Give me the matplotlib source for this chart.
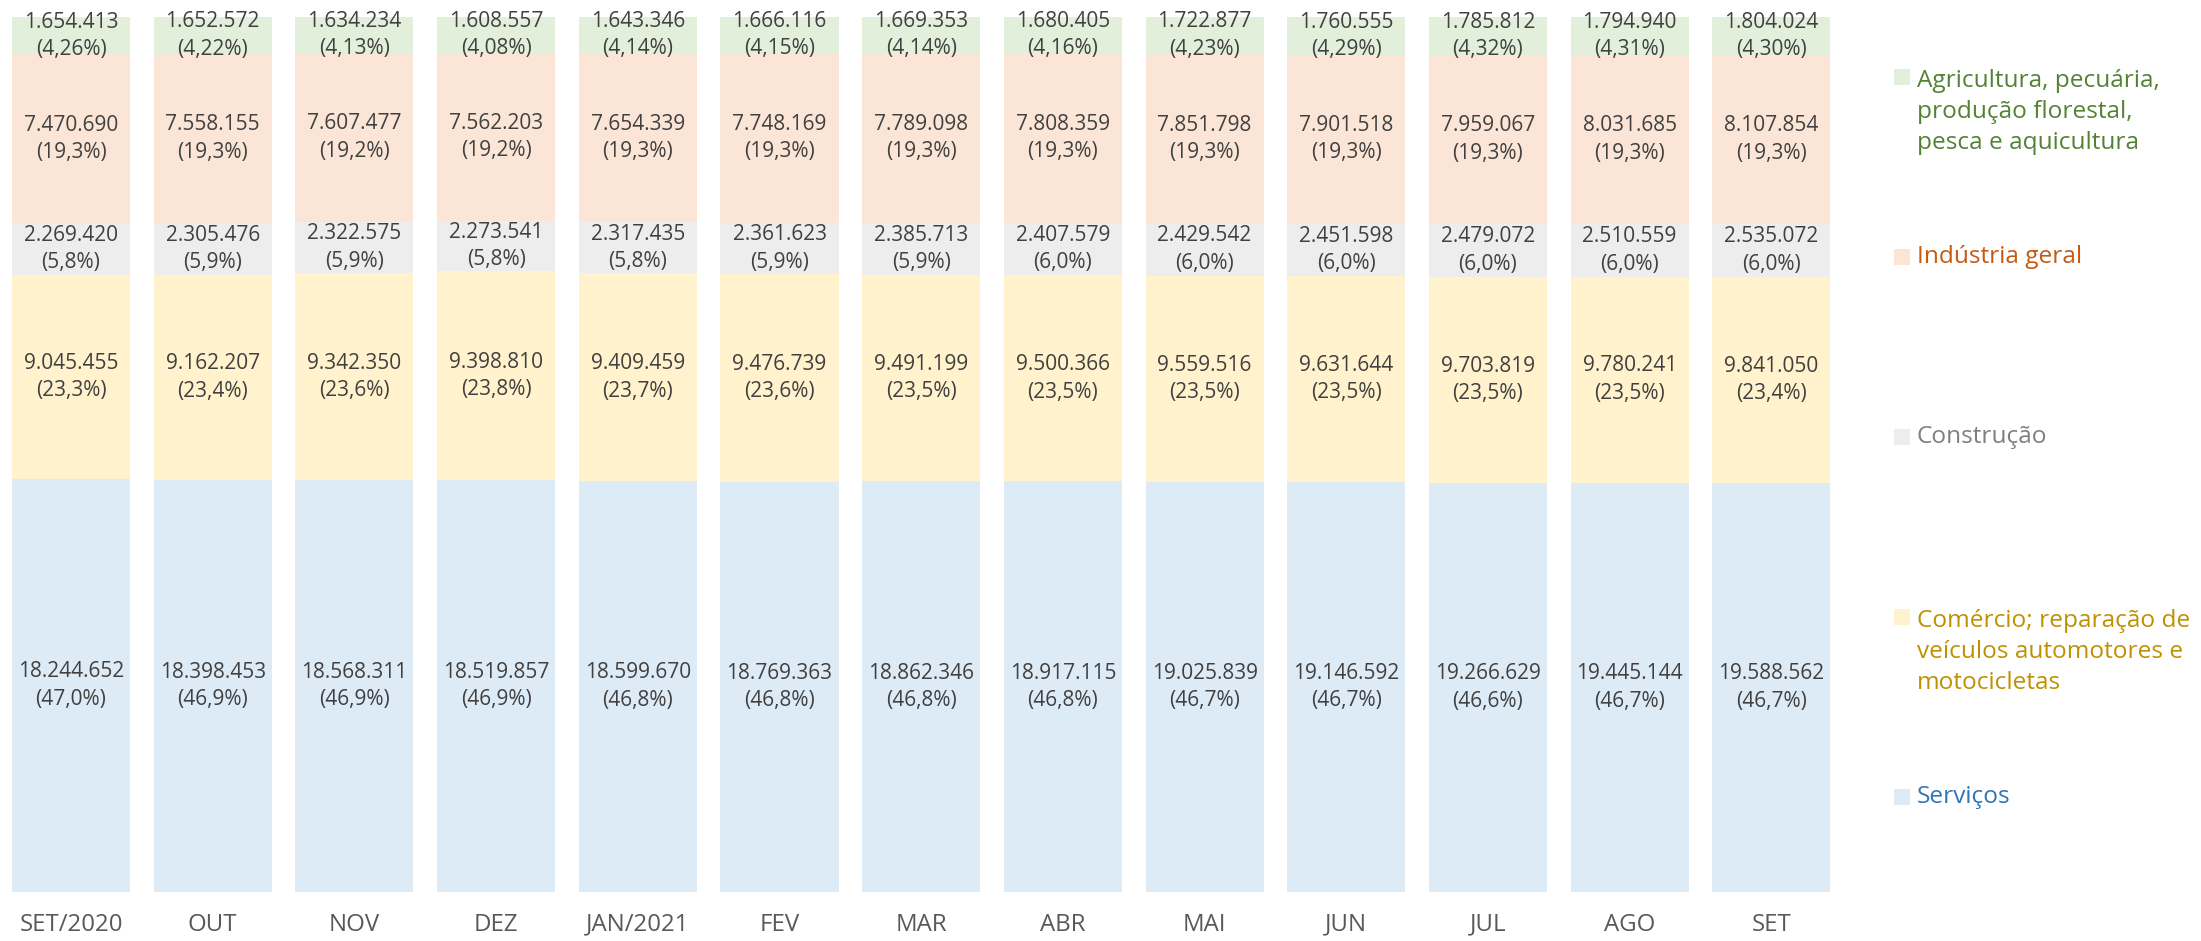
import textwrap
import matplotlib
matplotlib.use("Agg")
import matplotlib.pyplot as plt
from matplotlib.patches import Rectangle

# ---------------- data ----------------
months = ["SET/2020", "OUT", "NOV", "DEZ", "JAN/2021", "FEV", "MAR",
          "ABR", "MAI", "JUN", "JUL", "AGO", "SET"]

servicos = [18244652, 18398453, 18568311, 18519857, 18599670, 18769363, 18862346,
            18917115, 19025839, 19146592, 19266629, 19445144, 19588562]
comercio = [9045455, 9162207, 9342350, 9398810, 9409459, 9476739, 9491199,
            9500366, 9559516, 9631644, 9703819, 9780241, 9841050]
construcao = [2269420, 2305476, 2322575, 2273541, 2317435, 2361623, 2385713,
              2407579, 2429542, 2451598, 2479072, 2510559, 2535072]
industria = [7470690, 7558155, 7607477, 7562203, 7654339, 7748169, 7789098,
             7808359, 7851798, 7901518, 7959067, 8031685, 8107854]
agricultura = [1654413, 1652572, 1634234, 1608557, 1643346, 1666116, 1669353,
               1680405, 1722877, 1760555, 1785812, 1794940, 1804024]

servicos_pct = [47.0, 46.9, 46.9, 46.9, 46.8, 46.8, 46.8, 46.8, 46.7, 46.7, 46.6, 46.7, 46.7]
comercio_pct = [23.3, 23.4, 23.6, 23.8, 23.7, 23.6, 23.5, 23.5, 23.5, 23.5, 23.5, 23.5, 23.4]
construcao_pct = [5.8, 5.9, 5.9, 5.8, 5.8, 5.9, 5.9, 6.0, 6.0, 6.0, 6.0, 6.0, 6.0]
industria_pct = [19.3, 19.3, 19.2, 19.2, 19.3, 19.3, 19.3, 19.3, 19.3, 19.3, 19.3, 19.3, 19.3]
agricultura_pct = [4.26, 4.22, 4.13, 4.08, 4.14, 4.15, 4.14, 4.16, 4.23, 4.29, 4.32, 4.31, 4.30]

series_names = ["Serviços",
                "Comércio; reparação de veículos automotores e motocicletas",
                "Construção",
                "Indústria geral",
                "Agricultura, pecuária, produção florestal, pesca e aquicultura"]

# ---------------- style ----------------
fill_colors = ["#DDEBF7", "#FFF2CC", "#EDEDED", "#FBE5D6", "#E2EFDA"]
text_colors = ["#2E75B6", "#BF9000", "#7F7F7F", "#C55A11", "#548235"]
pct_decimals = [1, 1, 1, 1, 2]

plt.rcParams["font.family"] = ["Open Sans", "DejaVu Sans"]

W, H = 2201, 941
fig = plt.figure(figsize=(W / 100, H / 100), dpi=100)
ax = fig.add_axes([0.2 / W, 49 / H, 1842 / W, 875 / H])

values = [servicos, comercio, construcao, industria, agricultura]
pcts = [servicos_pct, comercio_pct, construcao_pct, industria_pct, agricultura_pct]

n = len(months)
x = list(range(n))
totals = [sum(v[i] for v in values) for i in range(n)]
bottoms = [0.0] * n

def fmt_int(v):
    return f"{v:,}".replace(",", ".")

def fmt_pct(p, d):
    return f"({p:.{d}f}%)".replace(".", ",")

for k, (vals, pc) in enumerate(zip(values, pcts)):
    fr = [vals[i] / totals[i] for i in range(n)]
    ax.bar(x, fr, bottom=bottoms, width=0.833, color=fill_colors[k],
           edgecolor="none", linewidth=0)
    for i in range(n):
        ax.text(x[i], bottoms[i] + fr[i] / 2,
                fmt_int(vals[i]) + "\n" + fmt_pct(pc[i], pct_decimals[k]),
                ha="center", va="center", fontsize=15, color="#404040",
                linespacing=1.4)
    bottoms = [bottoms[i] + fr[i] for i in range(n)]

ax.set_xlim(-0.5, n - 0.5)
ax.set_ylim(0, 1)
ax.set_yticks([])
ax.set_xticks(x, months)
ax.tick_params(axis="x", length=0, pad=15, labelsize=17.3, labelcolor="#595959")
for s in ax.spines.values():
    s.set_visible(False)

# ---------------- legend ----------------
legend_centers = [797, 652, 437, 257, 112]   # px from top (block centers)
line_px = 35
for k in range(len(series_names)):
    label = textwrap.fill(series_names[k], width=22)
    nlines = label.count("\n") + 1
    yc = legend_centers[k]
    first = yc - (nlines - 1) * line_px / 2
    fig.patches.append(Rectangle((1894 / W, 1 - (first + 8) / H), 16 / W, 16 / H,
                                 transform=fig.transFigure, facecolor=fill_colors[k],
                                 edgecolor="none"))
    fig.text(1917 / W, 1 - yc / H, label, ha="left", va="center",
             fontsize=17.6, color=text_colors[k], linespacing=1.38)

fig.savefig("out.png", dpi=100, facecolor="white")
